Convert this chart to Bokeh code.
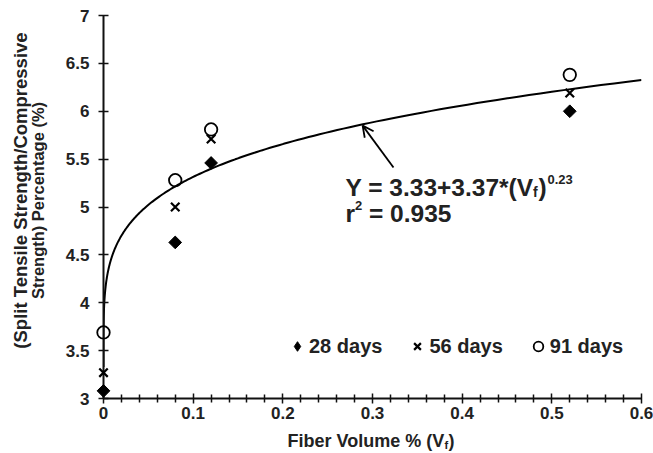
import numpy as np
from bokeh.plotting import figure
from bokeh.models import (Range1d, FixedTicker, Legend, LegendItem, Label, Arrow, OpenHead)
from bokeh.core.properties import value
from bokeh.embed import file_html
from bokeh.resources import INLINE

# ---- data ----
fiber_volume = [0.0, 0.08, 0.12, 0.52]
days28 = [3.08, 4.63, 5.46, 6.00]
days56 = [3.27, 5.00, 5.71, 6.19]
days91 = [3.69, 5.28, 5.81, 6.38]

# fit: Y = a + b * Vf^c
fit_a, fit_b, fit_c = 3.33, 3.37, 0.23

x_ticks = [0, 0.1, 0.2, 0.3, 0.4, 0.5, 0.6]
x_tick_labels = ["0", "0.1", "0.2", "0.3", "0.4", "0.5", "0.6"]
x_minor = [0.02, 0.04, 0.06, 0.08, 0.12, 0.14, 0.16, 0.18, 0.22, 0.24, 0.26, 0.28,
           0.32, 0.34, 0.36, 0.38, 0.42, 0.44, 0.46, 0.48, 0.52, 0.54, 0.56, 0.58]
y_ticks = [3, 3.5, 4, 4.5, 5, 5.5, 6, 6.5, 7]
y_tick_labels = ["3", "3.5", "4", "4.5", "5", "5.5", "6", "6.5", "7"]

FONT = "Liberation Sans"
TXT = "#222222"

p = figure(width=653, height=453, output_backend="svg", toolbar_location=None,
           x_range=Range1d(0, 0.6), y_range=Range1d(3, 7),
           min_border_left=103, min_border_right=12, min_border_top=15, min_border_bottom=55)
p.outline_line_color = None
p.xgrid.visible = False
p.ygrid.visible = False
p.background_fill_color = "white"

# axes
xa = p.xaxis[0]
xa.ticker = FixedTicker(ticks=x_ticks, minor_ticks=x_minor)
xa.major_label_overrides = dict(zip(x_ticks, x_tick_labels))
ya = p.yaxis[0]
ya.ticker = FixedTicker(ticks=y_ticks)
ya.major_label_overrides = dict(zip(y_ticks, y_tick_labels))
for ax in (xa, ya):
    ax.axis_line_width = 2
    ax.axis_line_color = "#111111"
    ax.major_tick_line_width = 1.5
    ax.minor_tick_line_width = 1.5
    ax.major_tick_line_color = "#111111"
    ax.minor_tick_line_color = "#111111"
    ax.major_tick_in = 5
    ax.major_tick_out = 5
    ax.minor_tick_in = 4
    ax.minor_tick_out = 4
    ax.major_label_text_font = FONT
    ax.major_label_text_font_style = "bold"
    ax.major_label_text_font_size = "17px"
    ax.major_label_text_color = TXT
xa.major_label_standoff = 3
ya.major_label_standoff = 9

# fit curve
curve_x = np.concatenate([[0.0], np.geomspace(1e-7, 0.6, 600)])
curve_y = fit_a + fit_b * curve_x ** fit_c
p.line(curve_x, curve_y, line_color="black", line_width=2)

# data points (overlay level so the points on the y axis are not cut by the frame)
# diamond key glyph for the legend, hidden beneath the rotated squares
r28_key = p.scatter(fiber_volume, days28, marker="diamond", size=11,
                    fill_color="black", line_color="black", level="overlay")
r28 = p.scatter(fiber_volume, days28, marker="square", angle=np.pi / 4, size=9,
                fill_color="black", line_color="black", level="overlay")
r56 = p.scatter(fiber_volume, days56, marker="x", size=12, line_color="black",
                line_width=2.2, level="overlay")
r91 = p.scatter(fiber_volume, days91, marker="circle", size=12.5, fill_color=None,
                line_color="black", line_width=1.8, level="overlay")

legend = Legend(items=[LegendItem(label="28 days", renderers=[r28_key]),
                       LegendItem(label="56 days", renderers=[r56]),
                       LegendItem(label="91 days", renderers=[r91])],
                orientation="horizontal", location=(182, 40), padding=0, margin=0,
                spacing=23, glyph_width=24, glyph_height=24, label_standoff=0,
                label_text_font=FONT, label_text_font_style="bold",
                label_text_font_size="20px", label_text_color=TXT,
                border_line_color=None, background_fill_alpha=0)
p.add_layout(legend, "center")

# arrow to the curve
p.add_layout(Arrow(end=OpenHead(size=11, line_width=1.8, line_color="black"),
                   x_start=0.3234, y_start=5.413, x_end=0.289, y_end=5.85,
                   line_width=1.8, line_color="black"))


def lbl(x, y, text, size, xo=0, yo=0):
    p.add_layout(Label(x=x, y=y, text=text, x_offset=xo, y_offset=yo,
                       text_font=FONT, text_font_style="bold",
                       text_font_size=f"{size}px", text_color=TXT,
                       text_align="left", text_baseline="alphabetic"))


def txt(x, y, text, size, xo=0, yo=0, align="left", angle=0):
    p.text(x=[x], y=[y], text=[text], x_offset=xo, y_offset=yo,
           text_font=value(FONT), text_font_style="bold",
           text_font_size=value(f"{size}px"), text_color=TXT,
           text_align=align, text_baseline="middle", angle=angle, level="overlay")


# equation
ex, ey1, ey2 = 0.2699, 5.200, 4.928
lbl(ex, ey1, "Y = 3.33+3.37*(V", 24.5)
lbl(ex, ey1, "f", 14, xo=187.5, yo=-4)
lbl(ex, ey1, ")", 24.5, xo=193)
lbl(ex, ey1, "0.23", 13, xo=202, yo=8)
lbl(ex, ey2, "r", 24.5)
lbl(ex, ey2, "2", 13, xo=9.5, yo=8)
lbl(ex, ey2, "= 0.935", 24.5, xo=23.5)

# x axis title
txt(0.2052, 2.561, "Fiber Volume % (V", 18)
txt(0.2052, 2.561, "f", 11, xo=157, yo=4)
txt(0.2052, 2.561, ")", 18, xo=161)

# y axis title (two lines)
txt(-0.0926, 5.172, "(Split Tensile Strength/Compressive", 18.5, align="center",
    angle=np.pi / 2)
txt(-0.0725, 5.068, "Strength) Percentage (%)", 16.5, align="center", angle=np.pi / 2)

open("out.html", "w").write(file_html(p, INLINE))
